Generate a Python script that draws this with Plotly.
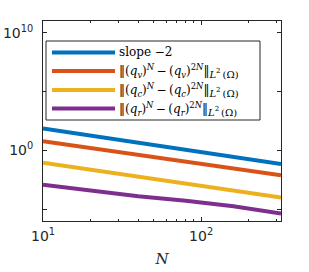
import plotly.graph_objects as go

N = [10, 20, 40, 80, 160, 320]
slope2 = [72, 18, 4.5, 1.125, 0.281, 0.0703]
err_v = [6.17, 1.58, 0.43, 0.11, 0.0295, 0.0076]
err_c = [0.091, 0.0229, 0.0059, 0.00145, 0.00038, 0.000098]
err_r = [1.23e-3, 3.7e-4, 1.26e-4, 5.2e-5, 1.78e-5, 4.4e-6]

SP = "\u2009"
def errname(s):
    return ("‖(<i>q</i><sub><i>" + s + "</i></sub>)<sup><i>N</i></sup>" + SP + "−" + SP +
            "(<i>q</i><sub><i>" + s + "</i></sub>)<sup>2<i>N</i></sup>‖"
            "<sub><span style='font-size:10px'><i>L</i><sup>2</sup>" + SP + "(Ω)</span></sub>")

names = ["slope −2", errname("v"), errname("c"), errname("r")]
colors = ["#0072BD", "#D95319", "#EDB120", "#7E2F8E"]
series = [slope2, err_v, err_c, err_r]

xtickvals = [10, 100]
xticktext = ["10<sup>1</sup>", "10<sup>2</sup>"]
xminor = [20, 30, 40, 50, 60, 70, 80, 90, 200, 300]
ytickvals = [1e-5, 1, 1e5, 1e10]
yticktext = ["", "10<sup>0</sup>", "", "10<sup>10</sup>"]

SERIF = "DejaVu Serif"
axcol = "#262626"

fig = go.Figure()
for y, nm, c in zip(series, names, colors):
    fig.add_trace(go.Scatter(x=N, y=y, mode="lines", name=nm, showlegend=False,
                             line=dict(color=c, width=4)))

# legend box drawn in paper coordinates
PW, PH, L, T = 238.0, 200.0, 43.0, 21.0
def px(X):
    return (X - L) / PW
def py(Y):
    return (T + PH - Y) / PH

shapes = [dict(type="rect", xref="paper", yref="paper", x0=px(46), x1=px(260),
               y0=py(120), y1=py(41), line=dict(color=axcol, width=1), fillcolor="white",
               layer="above")]
annotations = []
rows = [52.5, 71, 90, 108.5]
for Y, nm, c in zip(rows, names, colors):
    shapes.append(dict(type="line", xref="paper", yref="paper", x0=px(52), x1=px(115),
                       y0=py(Y), y1=py(Y), line=dict(color=c, width=4), layer="above"))
    annotations.append(dict(text=nm, xref="paper", yref="paper", x=px(117), y=py(Y),
                            xanchor="left", yanchor="middle", showarrow=False,
                            font=dict(family=SERIF, size=12, color="black")))

fig.update_layout(
    width=309, height=272,
    margin=dict(l=43, r=28, t=21, b=51),
    paper_bgcolor="white", plot_bgcolor="white",
    font=dict(family="DejaVu Sans", size=14, color=axcol),
    showlegend=False,
    shapes=shapes, annotations=annotations,
    xaxis=dict(type="log", range=[1, 2.50515], tickvals=xtickvals, ticktext=xticktext,
               automargin=False, ticklabelstandoff=2,
               ticks="inside", ticklen=4, tickcolor=axcol, showline=True, linecolor=axcol,
               linewidth=1, mirror="ticks", showgrid=False, zeroline=False,
               minor=dict(tickmode="array", tickvals=xminor, ticks="inside", ticklen=2,
                          tickcolor=axcol, showgrid=False),
               title=dict(text="<i>N</i>", font=dict(family=SERIF, size=15), standoff=10)),
    yaxis=dict(type="log", range=[-6, 11], tickvals=ytickvals, ticktext=yticktext,
               automargin=False, ticklabelstandoff=6,
               ticks="inside", ticklen=4, tickcolor=axcol, showline=True, linecolor=axcol,
               linewidth=1, mirror="ticks", showgrid=False, zeroline=False),
)
fig.write_html("out.html", config={"displayModeBar": False},
               post_script="document.body.style.margin='0';document.body.style.padding='0';")
